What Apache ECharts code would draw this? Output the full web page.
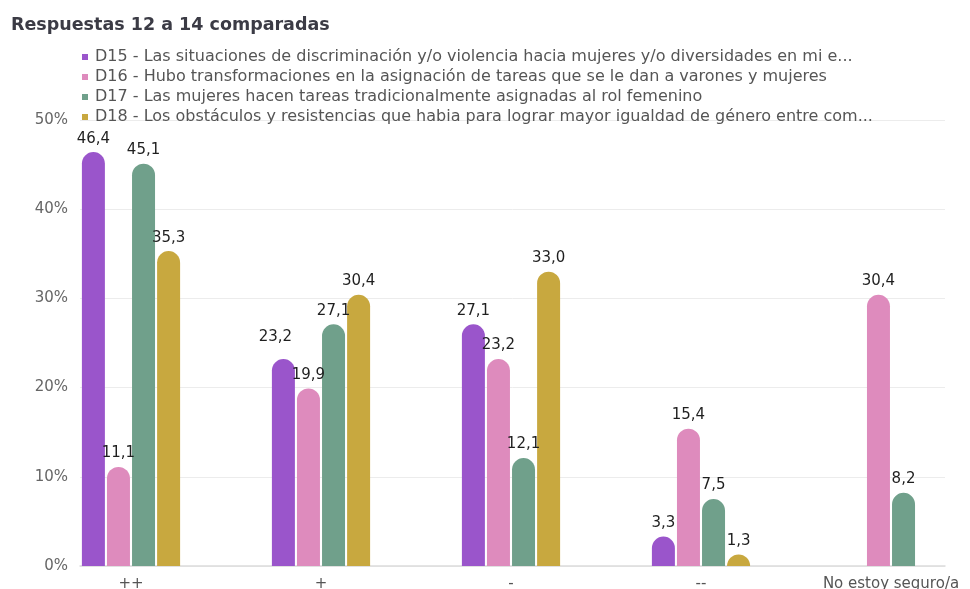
<!DOCTYPE html>
<html>
<head>
<meta charset="utf-8">
<script src="https://cdn.jsdelivr.net/npm/echarts@6/dist/echarts.min.js"></script>
<style>
  html, body { margin: 0; padding: 0; background: #fff; }
  #chart { width: 970px; height: 589px; }
</style>
</head>
<body>
<div id="chart"></div>
<script>
// Answer categories
const categories = ['++', '+', '-', '--', 'No estoy seguro/a'];

// Series names (as shown in the legend)
const seriesNames = [
  'D15 - Las situaciones de discriminación y/o violencia hacia mujeres y/o diversidades en mi e...',
  'D16 - Hubo transformaciones en la asignación de tareas que se le dan a varones y mujeres',
  'D17 - Las mujeres hacen tareas tradicionalmente asignadas al rol femenino',
  'D18 - Los obstáculos y resistencias que habia para lograr mayor igualdad de género entre com...'
];

// Percentages per category
const d15 = [46.4, 23.2, 27.1, 3.3, null];
const d16 = [11.1, 19.9, 23.2, 15.4, 30.4];
const d17 = [45.1, 27.1, 12.1, 7.5, 8.2];
const d18 = [35.3, 30.4, 33.0, 1.3, null];

// Y axis ticks
const yTicks = [0, 10, 20, 30, 40, 50];

const colors = ['#9a55cb', '#de8bbd', '#70a08b', '#c8a83f'];
const FONT = '"DejaVu Sans", "Noto Sans", sans-serif';

// Label offsets for crowded spots: "seriesIndex-categoryIndex" -> [dx, dy]
const labelNudges = { '0-1': [-8, -8] };

const chart = echarts.init(document.getElementById('chart'), null, { renderer: 'canvas' });

const fmt = p => p.value == null ? '' : p.value.toFixed(1).replace('.', ',');

function makeSeries(name, data, idx) {
  return {
    name: name,
    type: 'bar',
    xAxisIndex: 1,
    yAxisIndex: 1,
    data: data.map((v, i) => {
      const nudge = labelNudges[idx + '-' + i];
      return nudge ? { value: v, label: { offset: nudge } } : v;
    }),
    barWidth: 23,
    barGap: '9%',
    itemStyle: { color: colors[idx], borderRadius: [12, 12, 0, 0] },
    label: {
      show: true,
      position: 'top',
      distance: 6,
      formatter: fmt,
      color: '#1f1f1f',
      fontFamily: FONT,
      fontSize: 15
    }
  };
}

const option = {
  animation: false,
  backgroundColor: '#fff',
  color: colors,
  title: {
    text: 'Respuestas 12 a 14 comparadas',
    left: 6,
    top: 11,
    textStyle: { fontFamily: FONT, fontSize: 17.5, fontWeight: 'bold', color: '#3b3b45' }
  },
  legend: {
    orient: 'vertical',
    left: 77,
    top: 44,
    itemWidth: 6,
    itemHeight: 6,
    itemGap: 4,
    icon: 'rect',
    textStyle: { fontFamily: FONT, fontSize: 16, color: '#555', lineHeight: 16, padding: [0, 0, 0, 2] },
    data: seriesNames
  },
  grid: [
    { left: 80, right: 25, top: 120, bottom: 23, outerBoundsMode: 'none' },
    { left: 36, width: 950, top: 120, bottom: 23, outerBoundsMode: 'none' }
  ],
  xAxis: [
    {
      type: 'category',
      gridIndex: 0,
      data: categories,
      axisLine: { show: true, lineStyle: { color: '#dcdcdc', width: 1.5 } },
      axisTick: { show: false },
      axisLabel: { show: false }
    },
    {
      type: 'category',
      gridIndex: 1,
      data: categories,
      axisLine: { show: false },
      axisTick: { show: false },
      axisLabel: { margin: 11, fontFamily: FONT, fontSize: 15, color: '#555' }
    }
  ],
  yAxis: [
    {
      type: 'value',
      gridIndex: 0,
      min: yTicks[0],
      max: yTicks[yTicks.length - 1],
      interval: 10,
      axisLine: { show: false },
      axisTick: { show: false },
      axisLabel: { margin: 12, formatter: '{value}%', fontFamily: FONT, fontSize: 15, color: '#666' },
      splitLine: { lineStyle: { color: '#ececec', width: 1 } }
    },
    {
      type: 'value',
      gridIndex: 1,
      min: yTicks[0],
      max: yTicks[yTicks.length - 1],
      interval: 10,
      show: false
    }
  ],
  series: [
    makeSeries(seriesNames[0], d15, 0),
    makeSeries(seriesNames[1], d16, 1),
    makeSeries(seriesNames[2], d17, 2),
    makeSeries(seriesNames[3], d18, 3)
  ]
};

chart.setOption(option);
</script>
</body>
</html>
